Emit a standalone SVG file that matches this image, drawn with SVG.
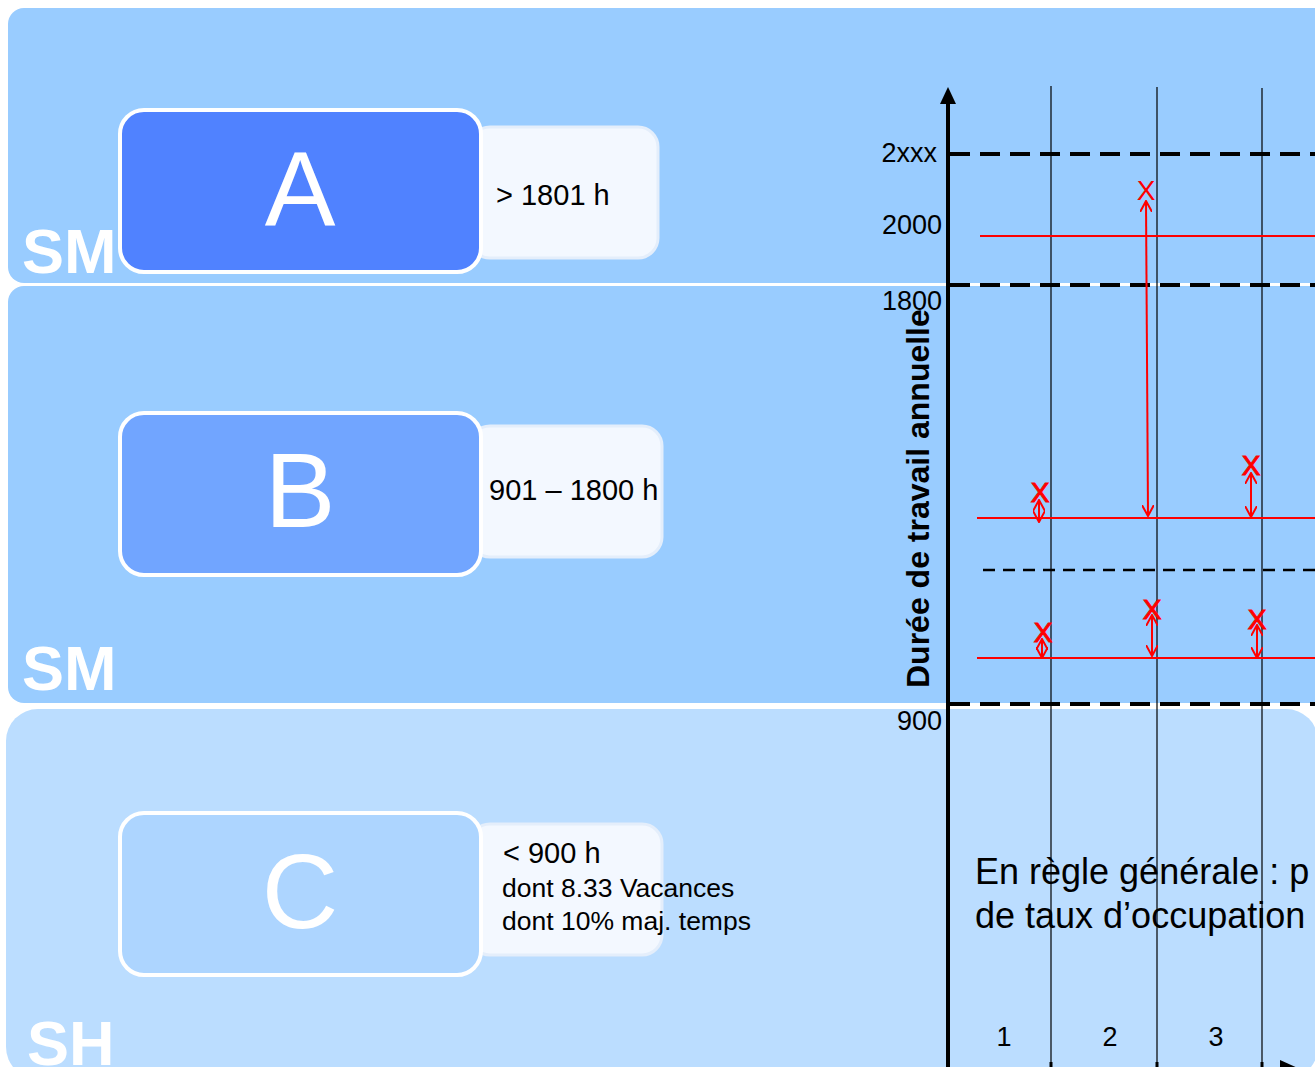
<svg xmlns="http://www.w3.org/2000/svg" width="1315" height="1067" viewBox="0 0 1315 1067">
<defs>
<style>
.panel{fill:#99CCFF}
.panel3{fill:#BBDDFF}
.big{font-family:"Liberation Sans",Arial,sans-serif;font-size:106px;fill:#fff;text-anchor:middle}
.band{font-family:"Liberation Sans",Arial,sans-serif;font-size:63px;font-weight:bold;fill:#fff}
.side{fill:#F3F8FF;stroke:#E4EEFB;stroke-width:3}
.t{font-family:"Liberation Sans",Arial,sans-serif;fill:#000}
.tick{font-family:"Liberation Sans",Arial,sans-serif;font-size:27px;fill:#000;text-anchor:end}
.dash{stroke:#000;stroke-width:4;stroke-dasharray:20 10;fill:none}
.vl{stroke:#000;stroke-width:1.2}
.red{stroke:#FF0000;stroke-width:2;fill:none}
.rx{font-family:"Liberation Sans",Arial,sans-serif;font-size:28px;fill:#FF0000;text-anchor:middle}
</style>
<marker id="ra" viewBox="0 0 12 12" refX="11" refY="6" markerWidth="12" markerHeight="12" markerUnits="userSpaceOnUse" orient="auto-start-reverse">
<path d="M0,0 L11,6 L0,12" fill="none" stroke="#FF0000" stroke-width="2"/>
</marker>
</defs>
<rect width="1315" height="1067" fill="#fff"/>
<g id="bands">
<rect class="panel" x="8" y="8" width="1330" height="275" rx="16"/>
<rect class="panel" x="8" y="286" width="1330" height="417" rx="16"/>
<rect class="panel3" x="6" y="709" width="1312" height="370" rx="32"/>
<text class="band" x="22" y="273">SM</text>
<text class="band" x="22" y="690">SM</text>
<text class="band" x="27" y="1065">SH</text>
</g>
<g id="nodeA">
<rect class="side" x="470" y="127" width="188" height="131" rx="20"/>
<rect x="120" y="110" width="361" height="162" rx="24" fill="#5082FF" stroke="#fff" stroke-width="4"/>
<text class="big" x="300" y="225">A</text>
<text class="t" x="496" y="205" font-size="29">&gt; 1801 h</text>
</g>
<g id="nodeB">
<rect class="side" x="470" y="426" width="192" height="131" rx="20"/>
<rect x="120" y="413" width="361" height="162" rx="24" fill="#71A5FF" stroke="#fff" stroke-width="4"/>
<text class="big" x="300" y="527">B</text>
<text class="t" x="489" y="500" font-size="29">901 – 1800 h</text>
</g>
<g id="nodeC">
<rect class="side" x="470" y="824" width="192" height="131" rx="20"/>
<rect x="120" y="813" width="361" height="162" rx="24" fill="#ADD5FF" stroke="#fff" stroke-width="4"/>
<text class="big" x="300" y="928">C</text>
<text class="t" x="503" y="863" font-size="29">&lt; 900 h</text>
<text class="t" x="502" y="897" font-size="26.5">dont 8.33 Vacances</text>
<text class="t" x="502" y="930" font-size="26.5">dont 10% maj. temps</text>
</g>
<g id="chart">
<line class="vl" x1="1051" y1="86" x2="1051" y2="1067"/>
<line class="vl" x1="1157" y1="87" x2="1157" y2="1067"/>
<line class="vl" x1="1262" y1="88" x2="1262" y2="1067"/>
<line class="dash" x1="950" y1="154" x2="1315" y2="154"/>
<line class="dash" x1="950" y1="285" x2="1315" y2="285"/>
<line class="dash" x1="950" y1="704" x2="1315" y2="704"/>
<line x1="983" y1="570" x2="1315" y2="570" stroke="#000" stroke-width="2.5" stroke-dasharray="12 8"/>
<line x1="948" y1="100" x2="948" y2="1067" stroke="#000" stroke-width="4"/>
<path d="M940,104 L948,87 L956,104 Z" fill="#000"/>
<line x1="948" y1="1069" x2="1285" y2="1069" stroke="#000" stroke-width="4"/>
<path d="M1280,1060 L1300,1069 L1280,1078 Z" fill="#000"/>
<g stroke="#000" stroke-width="3">
<line x1="1051" y1="1062" x2="1051" y2="1069"/>
<line x1="1157" y1="1062" x2="1157" y2="1069"/>
<line x1="1262" y1="1062" x2="1262" y2="1069"/>
</g>
<text class="tick" x="937" y="162">2xxx</text>
<text class="tick" x="942" y="234">2000</text>
<text class="tick" x="942" y="310">1800</text>
<text class="tick" x="942" y="730">900</text>
<text class="t" font-size="32" font-weight="bold" transform="translate(929,688) rotate(-90)">Durée de travail annuelle</text>
<text class="t" x="1004" y="1046" font-size="27" text-anchor="middle">1</text>
<text class="t" x="1110" y="1046" font-size="27" text-anchor="middle">2</text>
<text class="t" x="1216" y="1046" font-size="27" text-anchor="middle">3</text>
<text class="t" x="975" y="884" font-size="36">En règle générale : p</text>
<text class="t" x="975" y="928" font-size="36">de taux d’occupation</text>
</g>
<g id="connectors">
<line class="red" x1="980" y1="236" x2="1315" y2="236"/>
<line class="red" x1="977" y1="518" x2="1315" y2="518"/>
<line class="red" x1="977" y1="658" x2="1315" y2="658"/>
<line class="red" x1="1146" y1="201" x2="1148" y2="516" marker-start="url(#ra)" marker-end="url(#ra)"/>
<line class="red" x1="1039" y1="500" x2="1039" y2="522" marker-start="url(#ra)" marker-end="url(#ra)"/>
<line class="red" x1="1251" y1="473" x2="1251" y2="517" marker-start="url(#ra)" marker-end="url(#ra)"/>
<line class="red" x1="1042" y1="639" x2="1042" y2="658" marker-start="url(#ra)" marker-end="url(#ra)"/>
<line class="red" x1="1152" y1="615" x2="1152" y2="656" marker-start="url(#ra)" marker-end="url(#ra)"/>
<line class="red" x1="1257" y1="625" x2="1257" y2="658" marker-start="url(#ra)" marker-end="url(#ra)"/>
<text class="rx" x="1146" y="200">X</text>
<text class="rx" x="1040" y="502" stroke="#FF0000" stroke-width="1">X</text>
<text class="rx" x="1251" y="475" stroke="#FF0000" stroke-width="1">X</text>
<text class="rx" x="1043" y="642" stroke="#FF0000" stroke-width="1">X</text>
<text class="rx" x="1152" y="619" stroke="#FF0000" stroke-width="1">X</text>
<text class="rx" x="1257" y="629" stroke="#FF0000" stroke-width="1">X</text>
</g>
</svg>
